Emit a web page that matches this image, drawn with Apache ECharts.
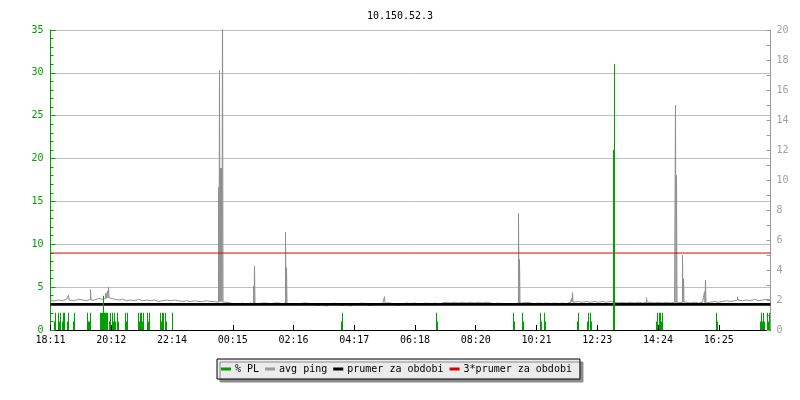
<!DOCTYPE html>
<html><head><meta charset="utf-8">
<script src="https://cdn.jsdelivr.net/npm/echarts@6/dist/echarts.min.js"></script>
<style>html,body{margin:0;padding:0;background:#fff}#c{width:800px;height:400px}</style>
</head><body><div id="c"></div>
<script>
// ---- data ----
const chartTitle = '10.150.52.3';
const timeLabels = ['18:11','20:12','22:14','00:15','02:16','04:17','06:18','08:20','10:21','12:23','14:24','16:25'];
const labelStepMin = 121.5;      // minutes between time labels
const spanMin = 1440;            // 24 h shown, minutes since 18:11
const pingStepMin = 8;           // spacing of the base ping readings
const seriesNames = ['% PL', 'avg ping', 'prumer za obdobi', '3*prumer za obdobi'];

// avg ping base level (ms), one reading every 8 minutes from 18:11
const pingBase = [
  1.95,2.0,1.95,2.05,2.0,1.95,2.05,2.0,1.95,2.05,
  2.0,2.1,2.05,2.1,2.15,2.05,2.0,2.05,1.95,2.0,
  1.95,2.05,1.95,2.0,1.95,2.0,1.9,1.95,2.0,1.95,
  2.0,1.95,1.9,1.95,1.9,1.95,1.9,1.9,1.95,1.9,
  1.9,1.85,1.9,1.85,1.8,1.75,1.7,1.8,1.7,1.8,
  1.75,1.75,1.8,1.8,1.75,1.8,1.8,1.75,1.8,1.75,
  1.7,1.7,1.65,1.8,1.7,1.7,1.65,1.7,1.6,1.7,
  1.8,1.7,1.65,1.7,1.6,1.7,1.75,1.8,1.7,1.65,
  1.7,1.7,1.75,1.8,1.8,1.7,1.65,1.7,1.8,1.75,
  1.8,1.7,1.75,1.8,1.7,1.8,1.75,1.8,1.85,1.8,
  1.85,1.8,1.85,1.8,1.85,1.8,1.85,1.8,1.85,1.8,
  1.75,1.8,1.7,1.75,1.7,1.75,1.8,1.8,1.85,1.8,
  1.75,1.8,1.75,1.8,1.75,1.8,1.75,1.8,1.75,1.85,
  1.85,1.9,1.85,1.9,1.85,1.9,1.85,1.9,1.85,1.9,
  1.85,1.8,1.85,1.8,1.85,1.8,1.85,1.8,1.85,1.85,
  1.8,1.85,1.8,1.85,1.8,1.85,1.8,1.85,1.85,1.8,
  1.85,1.8,1.85,1.8,1.85,1.9,1.85,1.9,1.95,1.9,
  1.95,2.0,1.95,2.0,1.95,2.05,1.95,2.0,2.05,2.0
];
// avg ping spikes: [minute since 18:11, ms]
const pingSpikes = [
  [36,2.33],[80,2.7],[110,2.45],[114,2.6],[116,2.87],
  [336,9.5],[338,17.3],[340,10.8],[342,10.8],[344,23],
  [406,2.93],[408,4.27],[470,6.53],[472,4.15],[668,2.22],
  [936,7.8],[938,4.7],[1042,2.1],[1044,2.49],[1192,2.15],
  [1250,15.0],[1252,10.3],[1264,5.0],[1266,3.4],
  [1308,2.55],[1310,3.33],[1374,2.22]
];
// packet loss: [minute since 18:11, %]
const packetLoss = [
  [8,1],[10,2],[16,2],[18,1],[20,2],[24,1],[26,2],[28,2],[34,1],[36,2],[46,1],[48,2],
  [74,2],[76,1],[78,1],[80,2],
  [100,2],[102,2],[104,2],[106,4],[108,2],[110,2],[112,2],[114,2],
  [118,1],[120,2],[124,2],[126,1],[128,2],[130,1],[134,2],[136,1],
  [150,2],[152,1],[154,2],
  [176,2],[178,1],[180,2],[182,2],[184,1],[186,2],
  [194,2],[196,1],[198,2],
  [220,2],[222,1],[224,2],[226,2],[230,2],[232,1],[244,2],
  [582,1],[584,2],[772,2],[774,1],[926,2],[928,1],[944,2],[946,1],
  [980,2],[982,1],[988,2],[990,1],[1054,1],[1056,2],
  [1074,1],[1076,2],[1080,2],[1082,1],
  [1126,21],[1128,31],
  [1212,1],[1214,2],[1218,2],[1220,2],[1222,1],[1224,2],
  [1332,2],[1334,1],
  [1420,1],[1422,2],[1424,1],[1426,2],[1428,1],[1434,2],[1436,1],[1438,2]
];
const avgPing = [1.71];

// ---- build ----
const baseAt = t => pingBase[Math.min(pingBase.length - 1, Math.floor(t / pingStepMin))];
const pingPts = [];
pingBase.forEach((v, i) => pingPts.push({t: i * pingStepMin, v, o: 0}));
pingPts.push({t: spanMin, v: pingBase[pingBase.length - 1], o: 0});
pingSpikes.forEach(([t, v]) => {
  pingPts.push({t, v, o: 1});
  pingPts.push({t: t + 1, v: baseAt(t), o: 2});
});
pingPts.sort((a, b) => a.t - b.t || a.o - b.o);
const pingData = pingPts.map(p => [p.t, p.v]);

const mono = 'DejaVu Sans Mono';
const GREEN = '#00a000', GRAY = '#8f8f8f', BLACK = '#000000', RED = '#e00000';

const chart = echarts.init(document.getElementById('c'), null, {renderer: 'canvas'});
chart.setOption({
  animation: false,
  backgroundColor: '#ffffff',
  title: {
    text: chartTitle, left: 'center', top: 6,
    textStyle: {fontFamily: mono, fontSize: 10, fontWeight: 'normal', color: '#000'}
  },
  legend: {
    data: seriesNames,
    left: 217, top: 359,
    icon: 'rect', itemWidth: 10, itemHeight: 3, itemGap: 6,
    padding: [5, 8, 5, 4],
    backgroundColor: '#ebebeb', borderColor: '#000', borderWidth: 1,
    shadowColor: '#8c8c8c', shadowOffsetX: 3, shadowOffsetY: 3, shadowBlur: 0,
    textStyle: {fontFamily: mono, fontSize: 10, color: '#000', padding: [0, 0, 0, -1]},
    selectedMode: false
  },
  grid: {left: 50.5, right: 29.5, top: 30, bottom: 70},
  xAxis: {
    type: 'value', min: 0, max: spanMin, interval: labelStepMin,
    axisLine: {show: true, lineStyle: {color: BLACK, width: 1}},
    axisTick: {show: true, inside: true, length: 5, lineStyle: {color: BLACK}},
    axisLabel: {
      fontFamily: mono, fontSize: 10, color: '#000', margin: 5, showMaxLabel: false,
      formatter: v => timeLabels[Math.round(v / labelStepMin)] || ''
    },
    splitLine: {show: false}
  },
  yAxis: [
    {
      type: 'value', min: 0, max: 35, interval: 5, position: 'left',
      axisLine: {show: true, lineStyle: {color: GREEN}},
      axisTick: {show: true, inside: true, length: 5, lineStyle: {color: GREEN}},
      minorTick: {show: true, splitNumber: 5, length: 3, lineStyle: {color: GREEN}},
      axisLabel: {fontFamily: mono, fontSize: 10, color: GREEN, margin: 7},
      splitLine: {show: true, lineStyle: {color: '#c0c0c0', width: 1}}
    },
    {
      type: 'value', min: 0, max: 20, interval: 2, position: 'right',
      axisLine: {show: true, lineStyle: {color: '#999999'}},
      axisTick: {show: true, inside: true, length: 4, lineStyle: {color: '#999999'}},
      minorTick: {show: true, splitNumber: 2, length: 4, lineStyle: {color: '#999999'}},
      axisLabel: {fontFamily: mono, fontSize: 10, color: '#a0a0a0', margin: 6},
      splitLine: {show: false}
    }
  ],
  series: [
    {
      name: seriesNames[1], type: 'line', yAxisIndex: 1, data: pingData,
      step: 'end', showSymbol: false, symbol: 'none', clip: true, z: 2,
      itemStyle: {color: '#999999'}, lineStyle: {color: GRAY, width: 1}
    },
    {
      name: seriesNames[2], type: 'line', yAxisIndex: 1,
      data: [[0, avgPing[0]], [spanMin, avgPing[0]]],
      showSymbol: false, symbol: 'none', z: 3,
      itemStyle: {color: BLACK}, lineStyle: {color: BLACK, width: 2.6}
    },
    {
      name: seriesNames[3], type: 'line', yAxisIndex: 1,
      data: [[0, 3 * avgPing[0]], [spanMin, 3 * avgPing[0]]],
      showSymbol: false, symbol: 'none', z: 4,
      itemStyle: {color: RED}, lineStyle: {color: RED, width: 1}
    },
    {
      name: seriesNames[0], type: 'bar', yAxisIndex: 0, data: packetLoss,
      barWidth: 1, z: 5, itemStyle: {color: GREEN}
    }
  ]
});
</script>
</body></html>
